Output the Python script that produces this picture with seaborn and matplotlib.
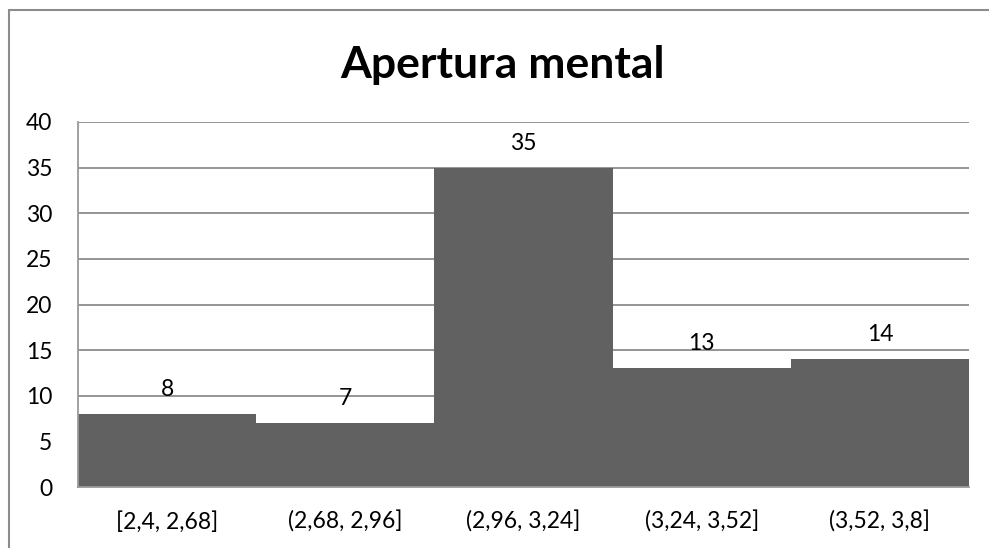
import matplotlib
matplotlib.use("Agg")
import matplotlib.pyplot as plt
import seaborn as sns
import pandas as pd
from matplotlib.lines import Line2D

# Histogram bins and their frequencies
bins = ["[2,4, 2,68]", "(2,68, 2,96]", "(2,96, 3,24]", "(3,24, 3,52]", "(3,52, 3,8]"]
counts = [8, 7, 35, 13, 14]
y_ticks = [0, 5, 10, 15, 20, 25, 30, 35, 40]
title = "Apertura mental"

sns.set_theme(style="white")
plt.rcParams["font.family"] = ["Lato", "DejaVu Sans"]

W, H = 989, 548
fig = plt.figure(figsize=(W / 100, H / 100), dpi=100)

# plot area in pixel coordinates
left, right, top, bottom = 78, 969, 122, 487
ax = fig.add_axes([left / W, 1 - bottom / H, (right - left) / W, (bottom - top) / H])

df = pd.DataFrame({"bin": bins, "count": counts})
sns.barplot(data=df, x="bin", y="count", order=bins, color="#616161",
            saturation=1, width=1.0, linewidth=0, edgecolor="none",
            ax=ax, zorder=3)

FS = 16.5
ax.set_xlim(-0.5, len(bins) - 0.5)
ax.set_ylim(0, 40)
ax.set_yticks(y_ticks)
ax.set_yticklabels([str(t) for t in y_ticks], fontsize=FS, color="black")
ax.tick_params(axis="x", labelsize=FS, colors="black", length=0, pad=17)
ax.tick_params(axis="y", length=0, pad=18.5)
ax.set_xlabel("")
ax.set_ylabel("")

ax.yaxis.grid(True, color="#8c8c8c", linewidth=1.3, zorder=1)
ax.set_axisbelow(True)
for s in ("top", "right"):
    ax.spines[s].set_visible(False)
for s in ("left", "bottom"):
    ax.spines[s].set_color("#9a9a9a")
    ax.spines[s].set_linewidth(1.3)
    ax.spines[s].set_zorder(4)

# value labels above each bar
for i, c in enumerate(counts):
    ax.annotate(str(c), (i, c), xytext=(0, 10), textcoords="offset points",
                ha="center", va="bottom", fontsize=FS, color="black")

fig.text(503 / W, 1 - 65 / H, title, ha="center", va="center",
         fontsize=32, fontweight="bold", color="black")

# outer chart frame (top and left edges; the rest runs off the canvas)
fx, fy = 9 / W, 1 - 10 / H
fig.add_artist(Line2D([fx, 1.0], [fy, fy], transform=fig.transFigure,
                      color="#8c8c8c", linewidth=1.5))
fig.add_artist(Line2D([fx, fx], [0.0, fy], transform=fig.transFigure,
                      color="#8c8c8c", linewidth=1.5))

fig.savefig("out.png", dpi=100)
